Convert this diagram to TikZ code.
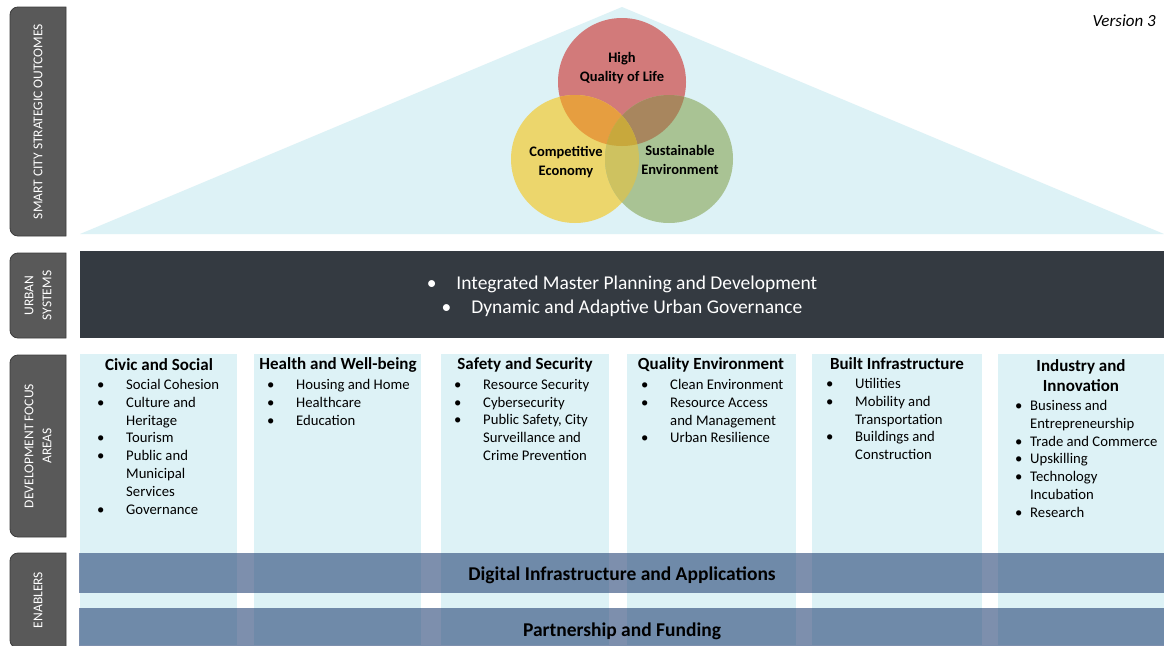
\documentclass[tikz,border=0pt]{standalone}
\usepackage{fontspec}
\setmainfont{Carlito}
\definecolor{paleblue}{RGB}{221,242,246}
\definecolor{labgray}{RGB}{89,89,89}
\definecolor{labedge}{RGB}{60,60,60}
\definecolor{darkbar}{RGB}{52,58,65}
\definecolor{enab}{RGB}{39,69,119}
\definecolor{cred}{RGB}{210,122,122}
\definecolor{cyel}{RGB}{236,214,108}
\definecolor{cgrn}{RGB}{169,195,148}
\definecolor{cry}{RGB}{230,158,64}
\definecolor{crg}{RGB}{168,134,94}
\definecolor{cyg}{RGB}{206,194,96}
\definecolor{cryg}{RGB}{200,168,60}
\newlength{\bw}
\newcommand{\bu}{\makebox[\bw][l]{\textbullet}}
\newcommand{\co}{\hspace*{\bw}}
\tikzset{
  sidelab/.style={fill=labgray, draw=labedge, line width=0.8pt},
  sidetext/.style={text=white, rotate=90, align=center, font=\fontsize{13.5}{18}\selectfont, inner sep=0pt},
  colbox/.style={fill=paleblue},
  colhead/.style={font=\bfseries\fontsize{17}{20}\selectfont, align=center, inner sep=0pt},
  colitems/.style={font=\fontsize{14.7}{17.8}\selectfont, align=left, anchor=north west, inner sep=0pt},
  ctext/.style={font=\bfseries\fontsize{14.5}{19}\selectfont, align=center, inner sep=0pt},
  ring/.style={circle, minimum size=128pt, inner sep=0pt},
  enabbar/.style={fill=enab, fill opacity=0.6},
  enabtext/.style={font=\bfseries\fontsize{19.5}{22}\selectfont, inner sep=0pt}
}
\begin{document}
\begin{tikzpicture}[x=1pt,y=-1pt]
\useasboundingbox (0,0) rectangle (1164,645);
\fill[white] (0,0) rectangle (1164,645);

% side labels
\foreach \ya/\yb/\nm in {7/236/l1, 253/338/l2, 355/537/l3, 553/648/l4}{
  \path[sidelab] (66,\ya) -- (18,\ya) arc[start angle=270,end angle=180,radius=8]
     -- (10,\yb-8) arc[start angle=180,end angle=90,radius=8] -- (66,\yb) -- cycle;
}
\node[sidetext] (t1) at (38,121.5) {SMART CITY STRATEGIC OUTCOMES};
\node[sidetext] (t2) at (38,295.5) {URBAN\\SYSTEMS};
\node[sidetext] (t3) at (38,446) {DEVELOPMENT FOCUS\\AREAS};
\node[sidetext] (t4) at (38,600) {ENABLERS};

% roof triangle
\fill[paleblue] (80,234) -- (622,7) -- (1164,234) -- cycle;

% circles
\node[ring, fill=cred] (red) at (622,82) {};
\node[ring, fill=cyel] (yel) at (575,159) {};
\node[ring, fill=cgrn] (grn) at (669,159) {};
\begin{scope}
  \clip (red.center) circle[radius=64];
  \fill[cry] (yel.center) circle[radius=64];
  \fill[crg] (grn.center) circle[radius=64];
\end{scope}
\begin{scope}
  \clip (yel.center) circle[radius=64];
  \fill[cyg] (grn.center) circle[radius=64];
  \clip (grn.center) circle[radius=64];
  \fill[cryg] (red.center) circle[radius=64];
\end{scope}
\node[ctext] (hq) at (622,68.5) {High\\Quality of Life};
\node[ctext] (ce) at (566,162) {Competitive\\Economy};
\node[ctext] (se) at (680,160) {Sustainable\\Environment};

\node[font=\itshape\fontsize{17}{18}\selectfont, anchor=east, inner sep=0pt] (ver) at (1156,21) {Version 3};

% urban systems bar
\fill[darkbar] (80,251) rectangle (1164,338);
\node[text=white, font=\fontsize{19.5}{24}\selectfont, align=center, inner sep=0pt] (us) at (622,296)
  {\textbullet\hspace{20pt}Integrated Master Planning and Development\\
   \textbullet\hspace{20pt}Dynamic and Adaptive Urban Governance};

% columns
\foreach \xa/\xb in {80/237, 254/421, 441/609, 627/796, 812/982, 998/1164}{
  \fill[colbox] (\xa,354) rectangle (\xb,645);
}
\node[colhead] (h1) at (159,365) {Civic and Social};
\node[colhead] (h2) at (338,365) {Health and Well-being};
\node[colhead] (h3) at (525,365) {Safety and Security};
\node[colhead] (h4) at (711,365) {Quality Environment};
\node[colhead] (h5) at (897,364) {Built Infrastructure};
\node[colhead] (h6) at (1081,376) {Industry and\\Innovation};

\setlength{\bw}{29pt}
\node[colitems] (i1) at (97,379) {\bu Social Cohesion\\\bu Culture and\\\co Heritage\\\bu Tourism\\\bu Public and\\\co Municipal\\\co Services\\\bu Governance};
\node[colitems] (i2) at (267,379) {\bu Housing and Home\\\bu Healthcare\\\bu Education};
\node[colitems] (i3) at (454,379) {\bu Resource Security\\\bu Cybersecurity\\\bu Public Safety, City\\\co Surveillance and\\\co Crime Prevention};
\node[colitems] (i4) at (641,379) {\bu Clean Environment\\\bu Resource Access\\\co and Management\\\bu Urban Resilience};
\node[colitems] (i5) at (826,378) {\bu Utilities\\\bu Mobility and\\\co Transportation\\\bu Buildings and\\\co Construction};
\setlength{\bw}{15pt}
\node[colitems] (i6) at (1015,400) {\bu Business and\\\co Entrepreneurship\\\bu Trade and Commerce\\\bu Upskilling\\\bu Technology\\\co Incubation\\\bu Research};

% enablers
\fill[enabbar] (79,553) rectangle (1164,593);
\fill[enabbar] (79,608) rectangle (1164,648);
\node[enabtext] (e1) at (622,575) {Digital Infrastructure and Applications};
\node[enabtext] (e2) at (622,631) {Partnership and Funding};
\end{tikzpicture}
\end{document}
